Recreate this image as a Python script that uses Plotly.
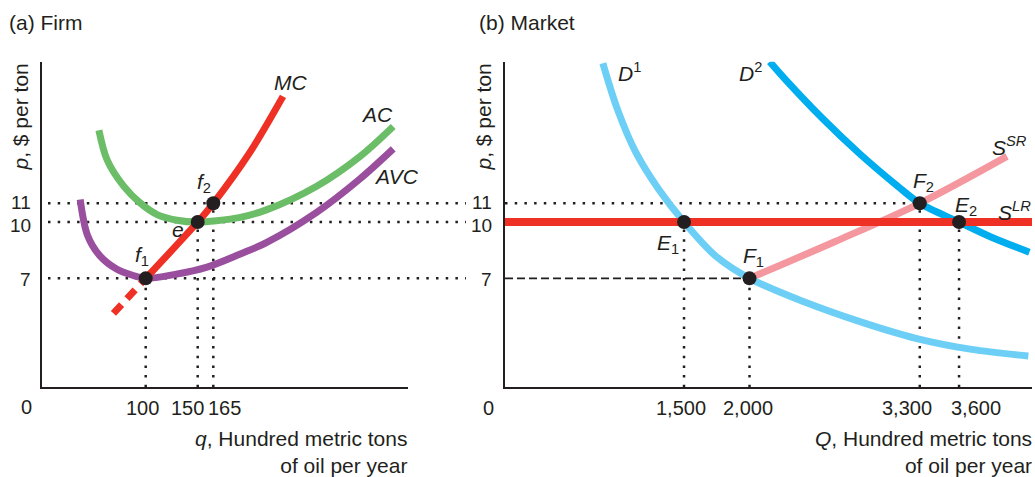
import plotly.graph_objects as go

W, H = 1035, 477

# ---------------- data: (a) Firm ----------------
mc_dash_q = [69, 100]
mc_dash_p = [5.13, 7.0]
mc_q = [100, 150, 165, 200, 232]
mc_p = [7.0, 10.0, 11.0, 13.7, 16.7]
ac_q = [55, 63, 79, 95, 111, 130, 150, 168, 191, 216, 264, 306, 338]
ac_p = [14.9, 13.3, 11.9, 11.0, 10.4, 10.1, 10.0, 10.07, 10.25, 10.65, 11.9, 13.5, 15.1]
avc_q = [37, 44, 56, 72, 88, 100, 127, 159, 191, 216, 264, 306, 338]
avc_p = [11.2, 9.3, 8.2, 7.5, 7.15, 7.0, 7.2, 7.6, 8.3, 8.9, 10.5, 12.3, 13.9]
firm_q = [100, 150, 165]
firm_p = [7, 10, 11]
firm_lbl = ['<i>f</i><sub>1</sub>', '<i>e</i>', '<i>f</i><sub>2</sub>']
firm_xticks = [100, 150, 165]
firm_xtext = ['100', '150', '165']

# ---------------- data: (b) Market ----------------
d1_Q = [880, 993, 1135, 1306, 1500, 1740, 2000, 2416, 2843, 3270, 3696, 4129]
d1_p = [18.47, 15.98, 13.67, 11.75, 10.0, 8.2, 7.0, 5.75, 4.69, 3.8, 3.21, 2.86]
d2_Q = [2154, 2273, 2558, 2843, 3127, 3300, 3600, 3839, 4137]
d2_p = [18.55, 17.61, 15.52, 13.63, 11.94, 11.0, 10.0, 9.22, 8.39]
ssr_Q = [2000, 2650, 3300, 3966]
ssr_p = [7.0, 8.95, 11.0, 13.5]
slr_price = 10
mkt_Q = [1500, 2000, 3300, 3600]
mkt_p = [10, 7, 11, 10]
mkt_lbl = ['<i>E</i><sub>1</sub>', '<i>F</i><sub>1</sub>', '<i>F</i><sub>2</sub>', '<i>E</i><sub>2</sub>']
mkt_xticks = [1500, 2000, 3300, 3600]
mkt_xtext = ['1,500', '2,000', '3,300', '3,600']
price_ticks = [11, 10, 7]

# ---------------- layout geometry ----------------
def px(x):
    return x / W

def py(y):
    return 1 - y / H

Y_RANGE = [1.19, 18.55]
X1_RANGE = [0, 352.5]
X2_RANGE = [132.9, 4157]

TXT = '#231f20'
FONT = 'Liberation Sans, Arial, Helvetica, sans-serif'
RED = '#ee3124'
GREEN = '#6cbd67'
PURPLE = '#9a4f9e'
LBLUE = '#6dcff6'
BLUE = '#00aeef'
PINK = '#f4979e'

fig = go.Figure()

def line(x, y, color, width, xa='x', ya='y', dash=None, smoothing=0.9):
    fig.add_trace(go.Scatter(x=x, y=y, mode='lines', xaxis=xa, yaxis=ya,
                             line=dict(color=color, width=width, shape='spline',
                                       smoothing=smoothing, dash=dash),
                             hoverinfo='skip', showlegend=False))

# Firm curves
line(ac_q, ac_p, GREEN, 7)
line(avc_q, avc_p, PURPLE, 7)
line(mc_dash_q, mc_dash_p, RED, 7, dash='12px,8px')
line(mc_q, mc_p, RED, 7)
fig.add_trace(go.Scatter(x=firm_q, y=firm_p, mode='markers', xaxis='x', yaxis='y',
                         marker=dict(color='#231f20', size=14), hoverinfo='skip',
                         showlegend=False))

# Market curves
line(ssr_Q, ssr_p, PINK, 7, 'x2', 'y2')
line(d1_Q, d1_p, LBLUE, 7, 'x2', 'y2')
line(d2_Q, d2_p, BLUE, 7, 'x2', 'y2')
line(X2_RANGE, [slr_price, slr_price], RED, 8, 'x2', 'y2')
fig.add_trace(go.Scatter(x=mkt_Q, y=mkt_p, mode='markers', xaxis='x2', yaxis='y2',
                         marker=dict(color='#231f20', size=14), hoverinfo='skip',
                         showlegend=False))

# ---------------- guide lines ----------------
DOT = dict(color=TXT, width=2.5, dash='2.5px,7.2px')
shapes = []
for p in price_ticks:
    shapes.append(dict(type='line', xref='paper', yref='y', x0=px(48), x1=px(466),
                       y0=p, y1=p, line=DOT, layer='below'))
for q, p in zip(firm_q, firm_p):
    shapes.append(dict(type='line', xref='x', yref='y', x0=q, x1=q, y0=Y_RANGE[0], y1=p,
                       line=DOT, layer='below'))
for Q, p in zip(mkt_Q, mkt_p):
    shapes.append(dict(type='line', xref='x2', yref='y2', x0=Q, x1=Q, y0=Y_RANGE[0], y1=p,
                       line=DOT, layer='below'))
shapes.append(dict(type='line', xref='x2', yref='y2', x0=X2_RANGE[0], x1=mkt_Q[2],
                   y0=mkt_p[2], y1=mkt_p[2], line=DOT, layer='below'))
shapes.append(dict(type='line', xref='x2', yref='y2', x0=X2_RANGE[0], x1=mkt_Q[1],
                   y0=mkt_p[1], y1=mkt_p[1],
                   line=dict(color=TXT, width=1.8, dash='8px,4px'), layer='below'))

# ---------------- annotations ----------------
ann = []

def A(text, x, y, xref='paper', yref='paper', size=21, xanchor='center', yanchor='middle',
      xshift=0, yshift=0, **kw):
    ann.append(dict(text=text, x=x, y=y, xref=xref, yref=yref, showarrow=False,
                    font=dict(family=FONT, size=size, color=TXT), xanchor=xanchor,
                    yanchor=yanchor, xshift=xshift, yshift=yshift, **kw))

A('(a) Firm', px(7), py(22), xanchor='left')
A('(b) Market', px(477), py(22), xanchor='left')

ytick_shift = {11: 1, 10: -3, 7: -1}
for p in price_ticks:
    A(str(p), px(33), p, yref='y', size=19, xanchor='right', yshift=ytick_shift[p])
    A(str(p), px(494), p, yref='y2', size=19, xanchor='right', yshift=ytick_shift[p])

firm_shift = [-3, -10, 11]
for v, t, s in zip(firm_xticks, firm_xtext, firm_shift):
    A(t, v, py(408), xref='x', size=20, xshift=s)
mkt_shift = [-3, -2, -13, 17]
for v, t, s in zip(mkt_xticks, mkt_xtext, mkt_shift):
    A(t, v, py(408), xref='x2', size=20, xshift=s)
A('0', px(26), py(407), size=20)
A('0', px(488), py(408), size=20)

A('<i>q</i>, Hundred metric tons<br>of oil per year', px(409), py(452), xanchor='right', align='right')
A('<i>Q</i>, Hundred metric tons<br>of oil per year', px(1034), py(452), xanchor='right', align='right')
A('<i>p</i>, $ per ton', px(20), py(62), yanchor='top', textangle=-90)
A('<i>p</i>, $ per ton', px(483), py(62), yanchor='top', textangle=-90)

A('<i>MC</i>', px(290), py(82))
A('<i>AC</i>', px(377), py(115))
A('<i>AVC</i>', px(396), py(177))
A('<i>D</i><sup>1</sup>', px(629), py(72))
A('<i>D</i><sup>2</sup>', px(750), py(72))
A('<i>S</i><sup><i>SR</i></sup>', px(1009), py(146))
A('<i>S</i><sup><i>LR</i></sup>', px(1014), py(211))

firm_lbl_shift = [(-4, 22), (-20, -7), (-9, 20)]
for q, p, t, (dx, dy) in zip(firm_q, firm_p, firm_lbl, firm_lbl_shift):
    A(t, q, p, xref='x', yref='y', xshift=dx, yshift=dy)
mkt_lbl_shift = [(-16, -22), (4, 21), (4, 21), (7, 16)]
for Q, p, t, (dx, dy) in zip(mkt_Q, mkt_p, mkt_lbl, mkt_lbl_shift):
    A(t, Q, p, xref='x2', yref='y2', xshift=dx, yshift=dy)

AX = dict(showgrid=False, zeroline=False, showticklabels=False, ticks='',
          showline=True, linecolor=TXT, linewidth=2, fixedrange=True)

fig.update_layout(
    width=W, height=H,
    margin=dict(l=0, r=0, t=0, b=0),
    paper_bgcolor='white', plot_bgcolor='white',
    showlegend=False,
    xaxis=dict(domain=[px(41.7), px(408.3)], range=X1_RANGE, anchor='y', **AX),
    yaxis=dict(domain=[py(387.3), py(61.7)], range=Y_RANGE, anchor='x', **AX),
    xaxis2=dict(domain=[px(505), px(1032)], range=X2_RANGE, anchor='y2', **AX),
    yaxis2=dict(domain=[py(387.3), py(61.7)], range=Y_RANGE, anchor='x2', **AX),
    shapes=shapes,
    annotations=ann,
    font=dict(family=FONT, color=TXT),
)

fig.write_html('out.html', config={'displayModeBar': False},
               post_script="document.body.style.margin='0';document.body.style.overflow='hidden';")
